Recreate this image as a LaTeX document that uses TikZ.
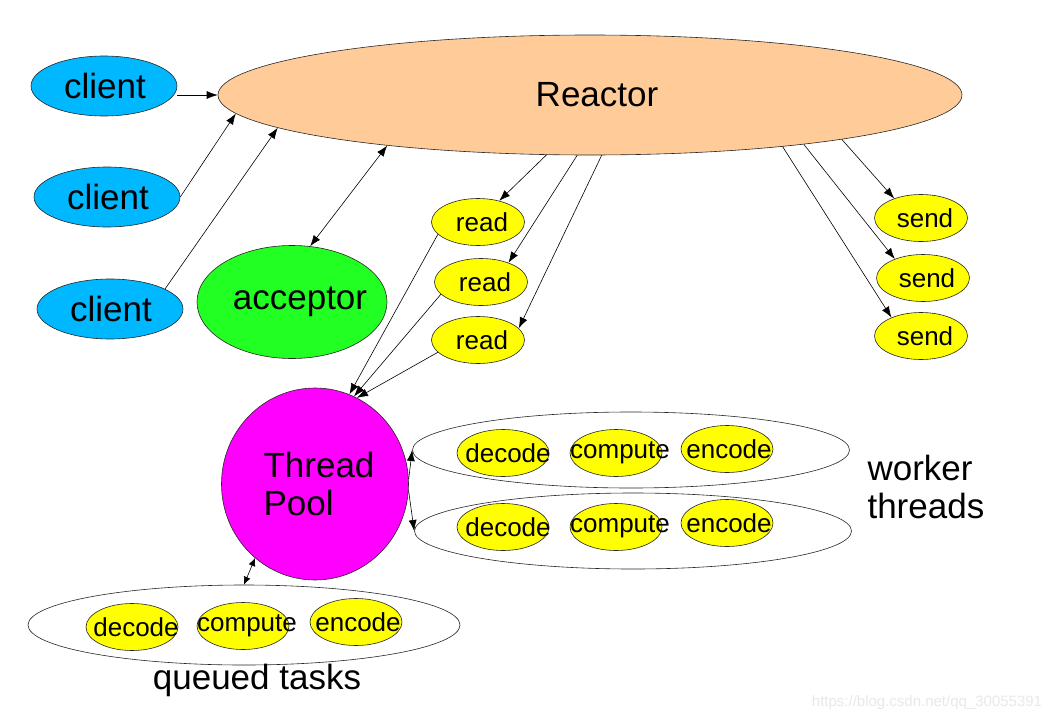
\documentclass[tikz,border=0pt]{standalone}
\usepackage{fontspec}
\setmainfont{Liberation Sans}
\usetikzlibrary{arrows.meta,shapes.geometric}
\definecolor{clientblue}{RGB}{0,184,255}
\definecolor{reactorpeach}{RGB}{255,204,153}
\definecolor{acceptgreen}{RGB}{34,255,34}
\definecolor{poolmagenta}{RGB}{255,0,255}
\definecolor{taskyellow}{RGB}{255,255,0}
\newcommand{\fixedtext}[2]{\makebox[0pt]{\hspace*{#1}#2}}

\begin{document}
\begin{tikzpicture}[x=1pt,y=-1pt,
    blob/.style={ellipse,draw=black!85,line width=0.6pt,inner sep=0pt},
    bigfont/.style={font=\fontsize{35}{38}\selectfont},
    smallfont/.style={font=\fontsize{26}{28}\selectfont},
    clientnode/.style={blob,fill=clientblue,minimum width=146pt,minimum height=60pt,bigfont},
    smallnode/.style={blob,fill=taskyellow,minimum width=93pt,minimum height=47pt,smallfont},
    tasknode/.style={blob,fill=taskyellow,minimum width=92pt,minimum height=47pt,smallfont},
    group/.style={blob,fill=white},
    link/.style={-{Latex[length=11pt,width=8pt]},line width=0.6pt},
    duplex/.style={{Latex[length=11pt,width=8pt]}-{Latex[length=11pt,width=8pt]},line width=0.6pt}]
  \useasboundingbox (0,0) rectangle (1055,720);
  % reactor side
  \node[blob,fill=reactorpeach,minimum width=744pt,minimum height=120pt,bigfont] (reactor) at (590,95) {\fixedtext{14pt}{Reactor}};
  \foreach \i/\y in {1/86,2/197,3/309}{
    \node[clientnode] (client\i) at (101+3*\i,\y) {\fixedtext{2pt}{client}};
  }
  \node[blob,fill=acceptgreen,minimum width=190pt,minimum height=113pt,bigfont] (acceptor) at (292,302) {\fixedtext{16pt}{acceptor}};
  \foreach \i/\x/\y in {1/478/222,2/481/282,3/478/340}{
    \node[smallnode] (read\i) at (\x,\y) {\fixedtext{8pt}{read}};
  }
  \foreach \i/\x/\y in {1/921/218,2/923/278,3/921/336}{
    \node[smallnode] (send\i) at (\x,\y) {\fixedtext{8pt}{send}};
  }
  % pool and workers
  \node[blob,fill=poolmagenta,minimum width=187pt,minimum height=192pt,bigfont,align=left] (pool) at (315,484) {\hspace*{8pt}Thread\\\hspace*{8pt}Pool};
  \node[group,minimum width=437pt,minimum height=76pt] (worker1) at (631,450) {};
  \node[group,minimum width=437pt,minimum height=76pt] (worker2) at (633,531) {};
  \node[group,minimum width=432pt,minimum height=80pt] (queued) at (244,625) {};
  \foreach \r/\y in {1/453,2/527}{
    \node[tasknode] (wdec\r) at (503,\y) {\fixedtext{10pt}{decode}};
    \node[tasknode] (wcomp\r) at (616,\y) {\fixedtext{8pt}{compute}};
    \node[tasknode] (wenc\r) at (727,\y-4) {\fixedtext{4pt}{encode}};
  }
  \node[tasknode] (qdec) at (132,627) {\fixedtext{8pt}{decode}};
  \node[tasknode] (qcomp) at (243,626) {\fixedtext{8pt}{compute}};
  \node[tasknode] (qenc) at (356,622) {\fixedtext{4pt}{encode}};
  \node[bigfont,align=left,anchor=west] (workerlabel) at (864,487) {worker\\threads};
  \node[bigfont] (queuedlabel) at (257,680) {queued tasks};
  \node[font=\fontsize{15}{17}\selectfont,text=black!9] (mark) at (927,703) {https://blog.csdn.net/qq\_30055391};
  % connectors
  \draw[link] ([yshift=-9pt]client1.east) -- (reactor.west);
  \draw[link] (client2.east) -- (reactor.183.9);
  \draw[link] (client3.20) -- (reactor.186.6);
  \draw[duplex] (acceptor.72) -- (reactor.194);
  \draw[link] (reactor.234) -- (read1.45);
  \draw[link] (reactor.258.7) -- (read2.35);
  \draw[link] (reactor.281.3) -- (read3.16);
  \draw[link] (reactor.350.4) -- (send1.144);
  \draw[link] (reactor.347.9) -- (send2.146);
  \draw[link] (reactor.345.8) -- (send3.148);
  \foreach \i/\a in {1/69,2/66,3/64}{
    \draw[link] (read\i.197) -- (pool.\a);
  }
  \draw[link] (pool.3) -- (worker1.west);
  \draw[link] (pool.-4) -- (worker2.west);
  \draw[{Latex[length=8pt,width=7pt]}-{Latex[length=8pt,width=7pt]},line width=0.6pt] (pool.231) -- (queued.north);
\end{tikzpicture}
\end{document}
